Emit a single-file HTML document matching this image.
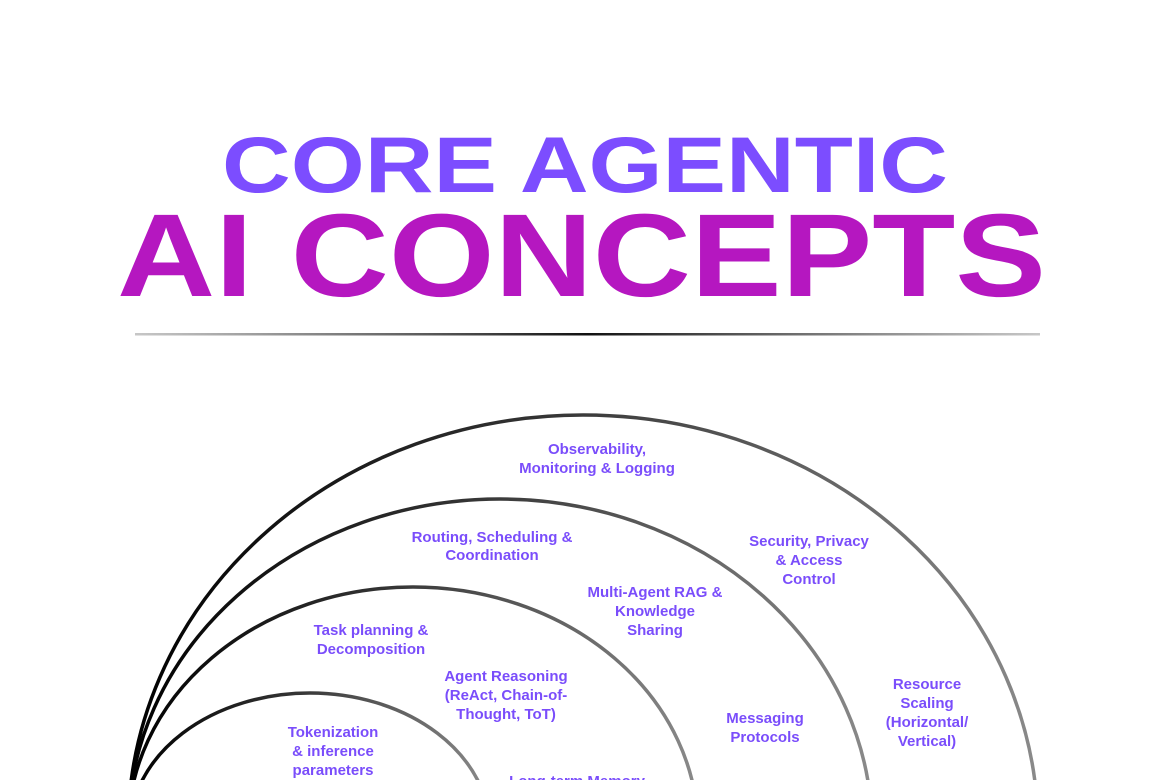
<!DOCTYPE html>
<html><head><meta charset="utf-8"><style>
html,body{margin:0;padding:0;background:#fff;width:1170px;height:780px;overflow:hidden;}
svg{display:block;}
text{font-family:"Liberation Sans",sans-serif;font-weight:bold;}
.l{fill:#7a4dfb;font-size:15px;text-anchor:middle;}
</style></head><body>
<svg width="1170" height="780" viewBox="0 0 1170 780" xmlns="http://www.w3.org/2000/svg">
<defs>
<linearGradient id="g" x1="0" y1="0" x2="1" y2="0">
<stop offset="0" stop-color="#000"/><stop offset="0.45" stop-color="#333"/><stop offset="1" stop-color="#8a8a8a"/>
</linearGradient>
<linearGradient id="d" x1="0" y1="0" x2="1" y2="0">
<stop offset="0" stop-color="#444" stop-opacity="0.3"/><stop offset="0.5" stop-color="#111"/><stop offset="1" stop-color="#444" stop-opacity="0.3"/>
</linearGradient>
<clipPath id="c"><rect x="0" y="0" width="1170" height="780"/></clipPath>
</defs>
<text x="222" y="192" font-size="79" textLength="726" lengthAdjust="spacingAndGlyphs" fill="#7c4dff">CORE AGENTIC</text>
<text x="117" y="296" font-size="118" textLength="929" lengthAdjust="spacingAndGlyphs" fill="#b517c0">AI CONCEPTS</text>
<rect x="135" y="333" width="905" height="2.5" fill="url(#d)"/>
<g clip-path="url(#c)">
<g fill="none" stroke="url(#g)" stroke-width="3.5">
<ellipse cx="583" cy="830" rx="455" ry="415"/>
<ellipse cx="500" cy="830" rx="372" ry="331"/>
<ellipse cx="413" cy="830" rx="285" ry="243"/>
<ellipse cx="310" cy="830" rx="180" ry="137"/>
</g>
<text class="l" x="577" y="786">Long-term Memory</text>
</g>
<text class="l"><tspan x="597" y="454">Observability,</tspan><tspan x="597" y="473">Monitoring &amp; Logging</tspan></text>
<text class="l"><tspan x="492" y="542">Routing, Scheduling &amp;</tspan><tspan x="492" y="560">Coordination</tspan></text>
<text class="l"><tspan x="809" y="546">Security, Privacy</tspan><tspan x="809" y="565">&amp; Access</tspan><tspan x="809" y="584">Control</tspan></text>
<text class="l"><tspan x="655" y="597">Multi-Agent RAG &amp;</tspan><tspan x="655" y="616">Knowledge</tspan><tspan x="655" y="635">Sharing</tspan></text>
<text class="l"><tspan x="371" y="635">Task planning &amp;</tspan><tspan x="371" y="654">Decomposition</tspan></text>
<text class="l"><tspan x="506" y="681">Agent Reasoning</tspan><tspan x="506" y="700">(ReAct, Chain-of-</tspan><tspan x="506" y="719">Thought, ToT)</tspan></text>
<text class="l"><tspan x="765" y="723">Messaging</tspan><tspan x="765" y="742">Protocols</tspan></text>
<text class="l"><tspan x="927" y="689">Resource</tspan><tspan x="927" y="708">Scaling</tspan><tspan x="927" y="727">(Horizontal/</tspan><tspan x="927" y="746">Vertical)</tspan></text>
<text class="l"><tspan x="333" y="737">Tokenization</tspan><tspan x="333" y="756">&amp; inference</tspan><tspan x="333" y="775">parameters</tspan></text>
</svg>
</body></html>
